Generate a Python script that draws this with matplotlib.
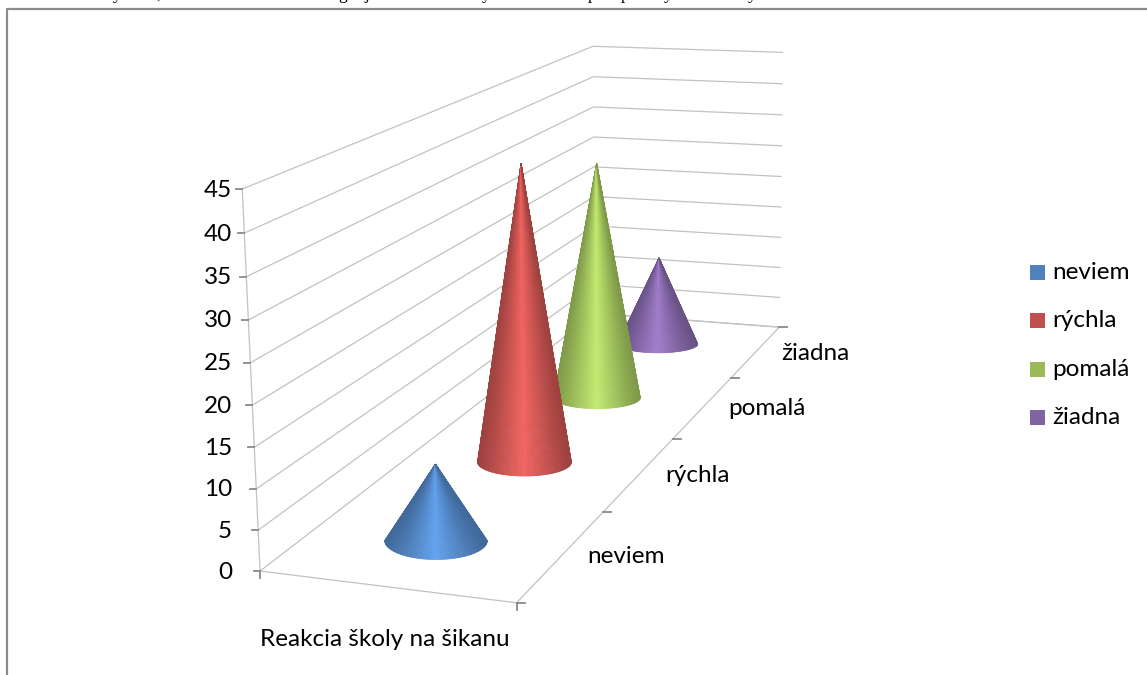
import numpy as np
import matplotlib
matplotlib.use('Agg')
import matplotlib.pyplot as plt
from matplotlib.colors import to_rgb

plt.rcParams['font.family'] = ['Lato', 'DejaVu Sans']

categories = ['neviem', 'rýchla', 'pomalá', 'žiadna']
values = [9.6, 40.3, 34.7, 14]
colors = ['#4f81bd', '#c0504d', '#9bbb59', '#8064a2']
y_ticks = [0, 5, 10, 15, 20, 25, 30, 35, 40, 45]
axis_title = 'Reakcia školy na šikanu'

W, H = 1147, 675
FS = 17.5

# box corners: (x, depth, value) -> pixel, used to fit the 3d view
box_3d = [(0, 0, 0), (0, 0, 45), (0, 1, 45), (1, 1, 0), (1, 1, 45), (1, 0, 0), (0, 1, 0)]
box_px = [(258, 568), (243, 190), (592, 45), (778, 325), (783, 53), (518, 605), (597, 316)]

A = []
b = []
for (x, d, v), (px, py) in zip(box_3d, box_px):
    v = v / 45
    A.append([x, d, v, 1, 0, 0, 0, 0, -px * x, -px * d, -px * v])
    A.append([0, 0, 0, 0, x, d, v, 1, -py * x, -py * d, -py * v])
    b += [px, py]
m = np.linalg.lstsq(np.array(A, float), np.array(b, float), rcond=None)[0]
M = np.append(m, 1).reshape(3, 4)


def proj(x, d, v):
    x, d, v = np.broadcast_arrays(np.asarray(x, float), np.asarray(d, float), np.asarray(v, float) / 45)
    q = np.stack([x, d, v, np.ones_like(x)], axis=-1) @ M.T
    return q[..., 0] / q[..., 2], q[..., 1] / q[..., 2]


fig = plt.figure(figsize=(W / 100, H / 100), dpi=100)
ax = fig.add_axes([0, 0, 1, 1])
ax.set_xlim(0, W)
ax.set_ylim(H, 0)
ax.axis('off')

# frame of the embedded chart
ax.plot([7, 7, W], [H, 9, 9], color='#8c8c8c', lw=1.6)

# bottoms of the page text line above the chart
for ch, tx in [('y', 113), (',', 156), ('g', 338), ('j', 365), ('y', 482), ('p', 588), ('p', 621), ('y', 664), ('y', 748)]:
    ax.text(tx, -1, ch, ha='left', va='baseline', fontsize=12.5, family='Liberation Serif', color='black', clip_on=True)

grid = '#c2c2c2'
axc = '#8a8a8a'
for t in y_ticks:
    xs, ys = proj([0, 0, 1], [0, 1, 1], [t, t, t])
    ax.plot(xs, ys, color=grid, lw=0.9, zorder=1)
    tx, ty = proj(0, 0, t)
    ax.plot([tx - 6, tx], [ty, ty], color=axc, lw=1.3, zorder=2)
    ax.text(232, ty + 1, str(t), ha='right', va='center', fontsize=FS, color='black')

xs, ys = proj([0, 0], [0, 0], [0, 45])
ax.plot(xs, ys, color=grid, lw=0.9, zorder=1)
xs, ys = proj([0, 1, 1, 0], [0, 0, 1, 1], [0, 0, 0, 0])
ax.plot(xs, ys, color=grid, lw=0.9, zorder=1)

# depth axis ticks and labels
for i in range(5):
    tx, ty = proj(1, i / 4, 0)
    ax.plot([tx, tx + 8], [ty, ty], color=axc, lw=1.3, zorder=2)
for i, c in enumerate(categories):
    tx, ty = proj(1, (i + 0.5) / 4, 0)
    ax.text(tx + 25, ty + 2, c, ha='left', va='center', fontsize=FS, color='black')
tx, ty = proj(1, 0, 0)
ax.plot([tx, tx], [ty, ty + 7], color=axc, lw=1.3, zorder=2)
tx, ty = proj(0, 0, 0)
ax.plot([tx, tx], [ty, ty + 7], color=axc, lw=1.3, zorder=2)
ax.text(385, 640, axis_title, ha='center', va='center', fontsize=FS, color='black')

# excel keeps the cone bases as flat screen ellipses
base_ry = [19, 14, 11, 9]


def cone(i, value, color):
    d = (i + 0.5) / 4
    r = 0.21
    cx, cy = proj(0.5, d, 0)
    cx = cx - 1.5
    lx, _ = proj(0.5 - r, d, 0)
    rx_, _ = proj(0.5 + r, d, 0)
    rx = (rx_ - lx) / 2
    ry = base_ry[i]
    apx, apy = proj(0.5, d, value)
    th = np.linspace(np.pi, 0, 121)
    bx = cx + rx * np.cos(th)
    by = cy + ry * np.sin(th)
    rgb = np.array(to_rgb(color))
    for k in range(len(th) - 1):
        s = abs(np.cos((th[k] + th[k + 1]) / 2))
        light = (1 - s) ** 1.1
        col = np.clip(rgb * (0.82 + 0.44 * light), 0, 1)
        ax.fill([apx, bx[k], bx[k + 1]], [apy, by[k], by[k + 1]], color=col, lw=0.5, zorder=5 + (3 - i))


for i in range(3, -1, -1):
    cone(i, values[i], colors[i])

# legend
leg_y = [272.5, 320.5, 369.5, 417.5]
for c, col, ly in zip(categories, colors, leg_y):
    ax.fill([1030, 1045, 1045, 1030], [ly - 7.5, ly - 7.5, ly + 7.5, ly + 7.5], color=col, lw=0)
    ax.text(1052, ly, c, ha='left', va='center', fontsize=FS, color='black')

fig.savefig('out.png', dpi=100)
